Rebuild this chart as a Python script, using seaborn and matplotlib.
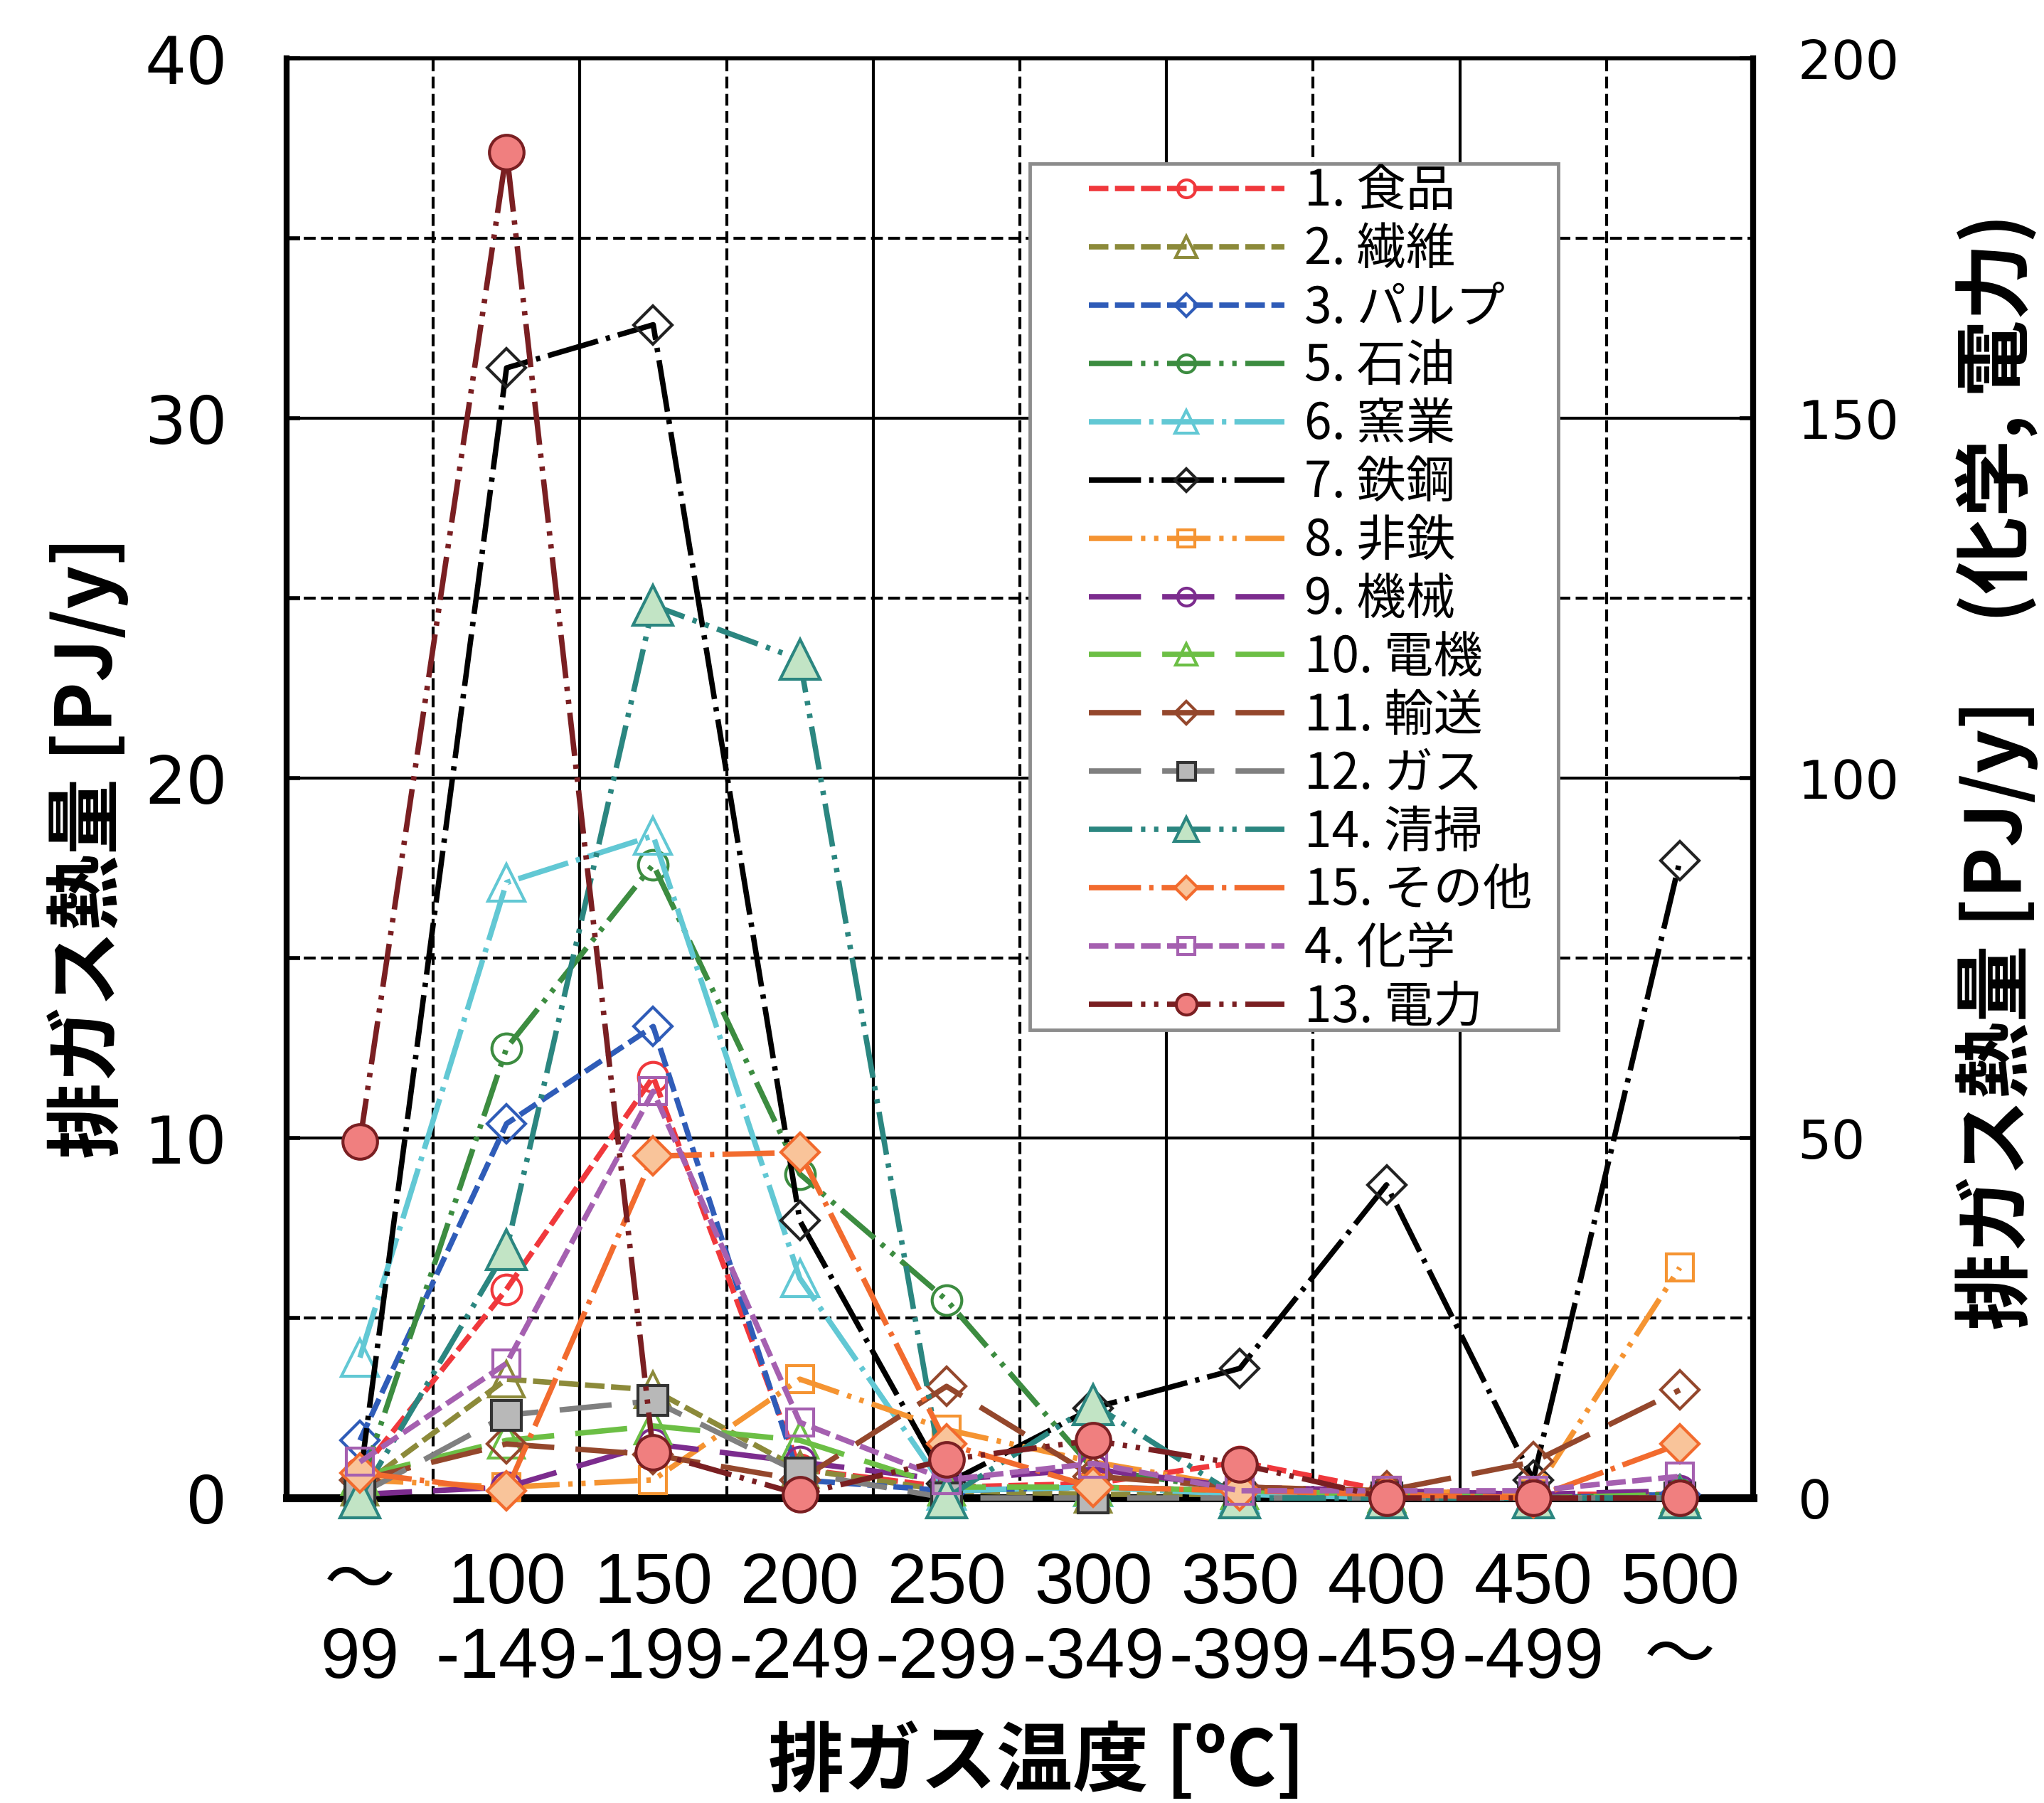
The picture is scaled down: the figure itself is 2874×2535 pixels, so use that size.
import numpy as np
import matplotlib
matplotlib.use('Agg')
import matplotlib.pyplot as plt
from matplotlib.patches import Rectangle
import seaborn as sns

# category labels (exhaust gas temperature bands)
categories = ['～\n99', '100\n-149', '150\n-199', '200\n-249', '250\n-299',
              '300\n-349', '350\n-399', '400\n-459', '450\n-499', '500\n～']

# left axis series [PJ/y]
food       = [0.7, 5.8, 11.7, 0.8, 0.3, 0.4, 1.0, 0.2, 0.1, 0.1]
textile    = [0.3, 3.3, 3.0, 0.8, 0.2, 0.1, 0.1, 0.1, 0.0, 0.1]
pulp       = [1.6, 10.4, 13.1, 0.5, 0.2, 0.3, 0.2, 0.1, 0.0, 0.1]
oil        = [0.3, 12.5, 17.6, 9.0, 5.5, 0.8, 0.2, 0.1, 0.0, 0.1]
ceramics   = [3.9, 17.1, 18.4, 6.1, 0.2, 0.3, 0.1, 0.0, 0.0, 0.0]
steel      = [0.5, 31.4, 32.6, 7.7, 0.4, 2.5, 3.6, 8.7, 0.5, 17.7]
nonferrous = [0.5, 0.3, 0.5, 3.3, 1.9, 1.0, 0.3, 0.2, 0.1, 6.4]
machinery  = [0.1, 0.3, 1.5, 1.0, 0.5, 0.8, 0.3, 0.2, 0.1, 0.2]
electric   = [0.6, 1.6, 2.0, 1.6, 0.3, 0.3, 0.2, 0.1, 0.0, 0.1]
transport  = [0.5, 1.5, 1.2, 0.5, 3.1, 0.6, 0.3, 0.2, 1.0, 3.0]
gas        = [0.1, 2.3, 2.7, 0.7, 0.0, 0.0, 0.0, 0.0, 0.0, 0.0]
cleaning   = [0.0, 6.9, 24.8, 23.3, 0.0, 2.6, 0.0, 0.0, 0.0, 0.0]
others     = [0.7, 0.2, 9.5, 9.6, 1.5, 0.3, 0.2, 0.1, 0.0, 1.5]
# right axis series [PJ/y] (chemical, power)
chemical   = [5.0, 18.7, 56.5, 10.5, 2.5, 4.8, 1.0, 1.0, 1.0, 3.0]
power      = [49.5, 187.0, 6.3, 0.5, 5.3, 8.0, 4.7, 0.0, 0.0, 0.0]

sns.set_style('white')
plt.rcParams['font.family'] = ['DejaVu Sans', 'Noto Sans CJK JP']
plt.rcParams['text.color'] = 'black'
plt.rcParams['xtick.color'] = 'black'
plt.rcParams['ytick.color'] = 'black'
plt.rcParams['axes.labelcolor'] = 'black'
JP = ['Noto Sans CJK JP', 'DejaVu Sans']

# line patterns (in units of line width)
SHORT = (0, (3.6, 1.2))
DASHDOT = (0, (9.6, 1.5, 0.8, 1.5))
DASHDOT2 = (0, (8.0, 1.6, 0.8, 1.6, 0.8, 1.6))
LONG = (0, (9.6, 3.9))

# name, data, color, linestyle, marker, size, face, edge, right axis?
series = [
    ('1. 食品', food, '#F0383C', SHORT, 'o', 30, 'none', '#F0383C', False),
    ('2. 繊維', textile, '#8C8A3A', SHORT, '^', 36, 'none', '#8C8A3A', False),
    ('3. パルプ', pulp, '#2F5CB8', SHORT, 'D', 28, 'none', '#2F5CB8', False),
    ('5. 石油', oil, '#3C8C40', DASHDOT2, 'o', 30, 'none', '#3C8C40', False),
    ('6. 窯業', ceramics, '#62C8D4', DASHDOT, '^', 38, 'none', '#62C8D4', False),
    ('7. 鉄鋼', steel, '#000000', DASHDOT, 'D', 28, 'none', '#222222', False),
    ('8. 非鉄', nonferrous, '#F59432', DASHDOT2, 's', 28, 'none', '#F59432', False),
    ('9. 機械', machinery, '#7C2C8E', LONG, 'o', 30, 'none', '#7C2C8E', False),
    ('10. 電機', electric, '#6CBF45', LONG, '^', 36, 'none', '#6CBF45', False),
    ('11. 輸送', transport, '#94472C', LONG, 'D', 28, 'none', '#94472C', False),
    ('12. ガス', gas, '#808080', LONG, 's', 30, '#B8B8B8', '#333333', False),
    ('14. 清掃', cleaning, '#2B8680', DASHDOT2, '^', 40, '#C2E4C5', '#2B8680', False),
    ('15. その他', others, '#F26B2E', DASHDOT, 'D', 28, '#F9C49A', '#F26B2E', False),
    ('4. 化学', chemical, '#A560B0', SHORT, 's', 28, 'none', '#A560B0', True),
    ('13. 電力', power, '#7A1F22', DASHDOT2, 'o', 35, '#F07F7F', '#7A1F22', True),
]

fig = plt.figure(figsize=(28.74, 25.35), dpi=100)
ax = fig.add_axes([0.1402, 0.1692, 0.7175, 0.7984])
ax2 = ax.twinx()

x = np.arange(len(categories))
handles = []
labels = []
for name, vals, col, ls, mk, ms, mfc, mec, right in series:
    target = ax2 if right else ax
    sns.lineplot(x=x, y=vals, ax=target, color=col, linestyle=ls, linewidth=5.5,
                 marker=mk, markersize=ms, markerfacecolor=mfc,
                 markeredgecolor=mec, markeredgewidth=3, clip_on=False,
                 zorder=3)
    handles.append(target.lines[-1])
    labels.append(name)

ax.set_xlim(-0.5, 9.5)
ax.set_ylim(0, 40)
ax2.set_ylim(0, 200)

# grid
ax.set_yticks(np.arange(0, 41, 10))
ax.set_yticks(np.arange(5, 40, 10), minor=True)
ax.grid(False)
ax.yaxis.grid(True, which='major', color='black', linewidth=3, linestyle='-')
ax.yaxis.grid(True, which='minor', color='black', linewidth=3, linestyle=(0, (4, 1.8)))
for i in range(9):
    ax.axvline(i + 0.5, color='black', linewidth=3,
               linestyle=(0, (4, 1.8)) if i % 2 == 0 else '-', zorder=1)
ax.set_axisbelow(True)

ax.set_xticks(x)
ax.set_xticklabels(categories)
ax.tick_params(axis='x', length=0, pad=54, labelsize=72)
for t in ax.get_xticklabels():
    t.set_family(['Liberation Sans', 'DejaVu Sans', 'Noto Sans CJK JP'])
    t.set_linespacing(1.15)

ax.tick_params(axis='y', which='both', direction='in', length=14, width=4,
               labelsize=66, pad=60, left=True)
ax2.set_yticks(np.arange(0, 201, 50))
ax2.tick_params(axis='y', which='both', direction='in', length=14, width=4,
                labelsize=54, pad=45, right=True)
ax2.grid(False)

for s in ['left', 'bottom', 'top']:
    ax.spines[s].set_linewidth(6)
    ax.spines[s].set_color('black')
ax.spines['bottom'].set_linewidth(8)
ax.spines['top'].set_linewidth(4)
ax.spines['right'].set_visible(False)
for s in ['left', 'bottom', 'top']:
    ax2.spines[s].set_visible(False)
ax2.spines['right'].set_linewidth(6)
ax2.spines['right'].set_color('black')

# legend box drawn separately so the handles can sit further in
frame = Rectangle((0.507, 0.325), 0.360, 0.602, transform=ax2.transAxes,
                  facecolor='white', edgecolor='#8C8C8C', linewidth=3.5,
                  zorder=9, clip_on=False)
ax2.add_patch(frame)
leg = ax2.legend(handles, labels, loc='upper left', bbox_to_anchor=(0.547, 0.925),
                 frameon=False, prop={'family': JP, 'size': 50},
                 handlelength=3.96, handletextpad=0.4, markerscale=0.6,
                 labelspacing=0.15, borderpad=0, borderaxespad=0)
leg.set_zorder(10)

fig.text(0.043, 0.530, '排ガス熱量 [PJ/y]', rotation=90, ha='center', va='center',
         fontsize=77, fontweight='bold', family=JP)
fig.text(0.977, 0.572, '排ガス熱量 [PJ/y]　(化学, 電力)', rotation=90, ha='center',
         va='center', fontsize=78, fontweight='bold', family=JP)
fig.text(0.507, 0.0225, '排ガス温度 [ºC]', ha='center', va='center',
         fontsize=77, fontweight='bold', family=JP)

fig.savefig('out.png', dpi=100)
